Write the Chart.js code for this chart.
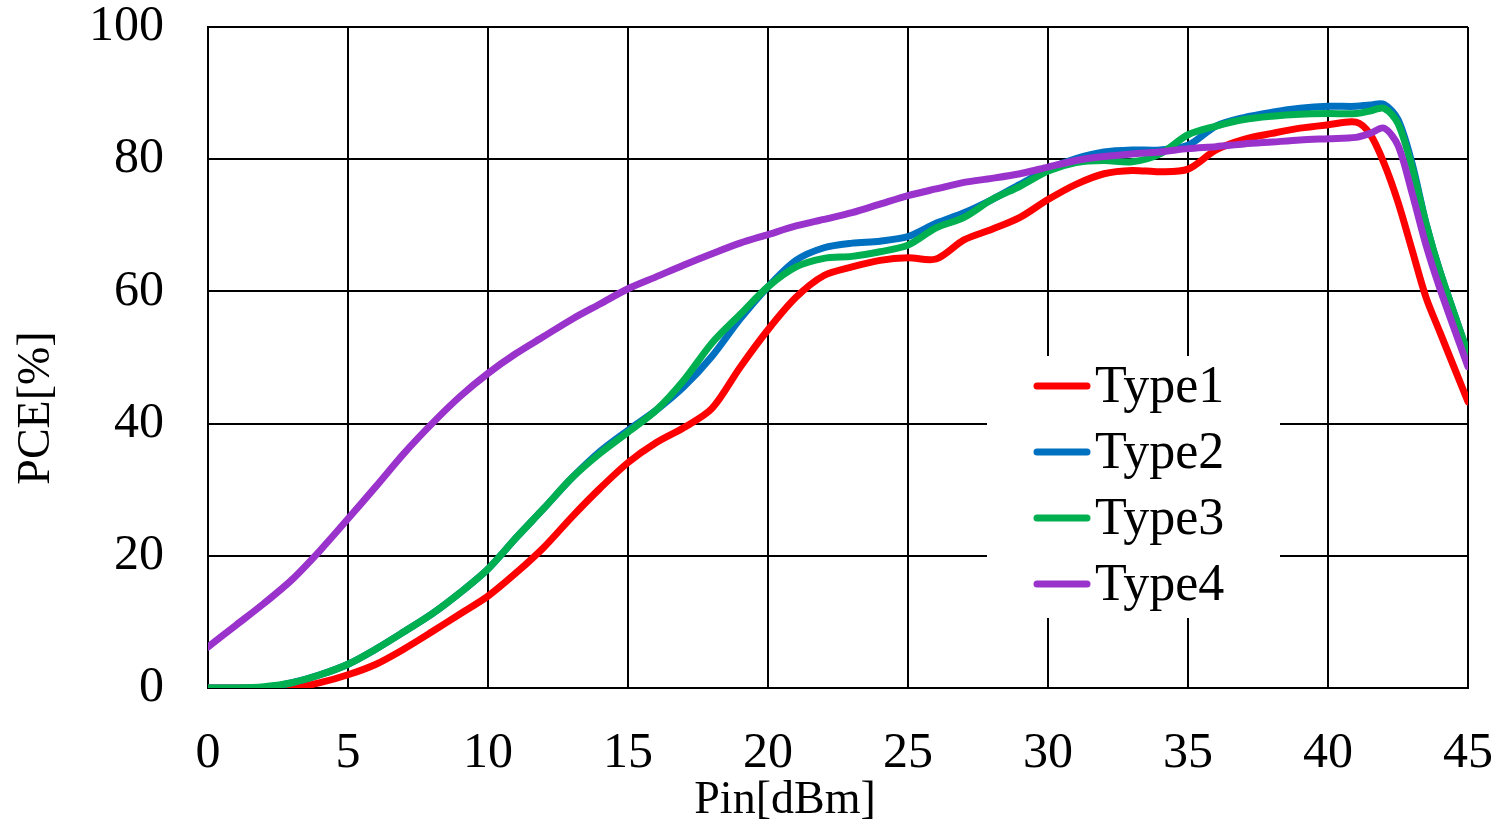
<!DOCTYPE html>
<html>
<head>
<meta charset="utf-8">
<script src="https://cdn.jsdelivr.net/npm/chart.js@4.4.0/dist/chart.umd.min.js"></script>
<style>
  html, body { margin: 0; padding: 0; background: #fff; }
  #wrap { width: 1500px; height: 824px; }
</style>
</head>
<body>
<div id="wrap"><canvas id="myChart" width="1500" height="824"></canvas></div>
<script>
// Pin [dBm]
var pin = [0, 1, 2, 3, 4, 5, 6, 7, 8, 9, 10, 11, 12, 13, 14, 15, 16, 17, 18, 19, 20,
    21, 22, 23, 24, 25, 26, 27, 28, 29, 30, 31, 32, 33, 34, 35, 36, 37, 38, 39, 40,
    41, 41.5, 42, 42.5, 43, 43.5, 44, 45];

// PCE [%]
var type1 = [0, 0, 0, 0, 0.8, 2, 3.6, 5.9, 8.5, 11.2, 13.9, 17.4, 21.3, 25.9, 30.2, 34.1, 37.1, 39.4, 42.3, 48.5, 54.2,
    59.1, 62.4, 63.7, 64.7, 65.1, 64.9, 67.8, 69.4, 71.2, 73.9, 76.2, 77.8, 78.3, 78.1, 78.5, 81.4, 83, 83.9, 84.7, 85.2,
    85.6, 83.8, 79.4, 73.5, 66.3, 59.1, 53.8, 43.3];
var type2 = [0, 0, 0, 0.8, 2, 3.6, 5.9, 8.5, 11.2, 14.4, 18, 22.7, 27.2, 31.8, 35.8, 39, 42, 45.6, 50.2, 55.8, 60.7,
    64.7, 66.6, 67.3, 67.6, 68.3, 70.3, 71.9, 73.9, 76.2, 78.5, 80.1, 81.1, 81.4, 81.4, 82.1, 85, 86.3, 87.1, 87.7, 88,
    88, 88.2, 88.3, 86, 79.4, 70.3, 63, 50.6];
var type3 = [0, 0, 0.2, 0.8, 2, 3.6, 5.9, 8.5, 11.2, 14.4, 18, 22.7, 27.2, 31.8, 35.5, 38.7, 42, 46.6, 52.2, 56.5, 60.7,
    63.7, 65, 65.3, 66, 67, 69.6, 71.2, 73.9, 75.9, 78.2, 79.5, 79.8, 79.6, 80.8, 83.7, 85, 86, 86.5, 86.8, 86.9,
    86.9, 87.3, 87.7, 85.4, 78.8, 70.3, 63, 50.6];
var type4 = [6.2, 9.5, 12.8, 16.4, 20.8, 25.6, 30.5, 35.5, 40, 44.1, 47.6, 50.6, 53.2, 55.8, 58.1, 60.4, 62.2, 64, 65.7, 67.3, 68.6,
    69.9, 70.9, 71.9, 73.2, 74.5, 75.5, 76.5, 77.1, 77.8, 78.8, 79.8, 80.4, 80.8, 81.1, 81.6, 81.9, 82.3, 82.6, 82.9, 83.1,
    83.3, 83.9, 84.7, 82.1, 74.9, 67, 60.4, 48.6];

var seriesNames = ['Type1', 'Type2', 'Type3', 'Type4'];
var seriesColors = ['#FF0000', '#0070C0', '#00B050', '#9933CC'];
var seriesValues = [type1, type2, type3, type4];
var xTitle = 'Pin[dBm]';
var yTitle = 'PCE[%]';

var serif = "'Liberation Serif', 'Times New Roman', serif";

function toPoints(ys) {
    return pin.map(function (x, i) { return { x: x, y: ys[i] }; });
}

var datasets = seriesNames.map(function (name, i) {
    return {
        label: name,
        data: toPoints(seriesValues[i]),
        borderColor: seriesColors[i],
        backgroundColor: seriesColors[i],
        borderWidth: 7,
        pointRadius: 0,
        fill: false,
        tension: 0.3,
        borderCapStyle: 'round',
        borderJoinStyle: 'round',
        order: seriesNames.length - i
    };
});

// legend box drawn inside the plot, over the grid
var insideLegend = {
    id: 'insideLegend',
    beforeDatasetsDraw: function (chart) {
        var c = chart.ctx;
        var a = chart.chartArea;
        var bx = a.left + 779, by = a.top + 329;
        c.save();
        c.fillStyle = '#fff';
        c.fillRect(bx, by, 293, 262);
        c.font = '52px ' + serif;
        c.textBaseline = 'middle';
        c.textAlign = 'left';
        seriesNames.forEach(function (name, i) {
            var y = by + 30 + i * 66;
            c.strokeStyle = seriesColors[i];
            c.lineWidth = 7;
            c.lineCap = 'round';
            c.beginPath();
            c.moveTo(bx + 50, y);
            c.lineTo(bx + 100, y);
            c.stroke();
            c.fillStyle = '#000';
            c.fillText(name, bx + 108, y + 2);
        });
        c.restore();
    }
};

// axis titles are a bit off-centre in the original, so draw them by hand
var axisTitles = {
    id: 'axisTitles',
    afterDraw: function (chart) {
        var c = chart.ctx;
        var a = chart.chartArea;
        c.save();
        c.font = '46px ' + serif;
        c.fillStyle = '#000';
        c.textAlign = 'center';
        c.textBaseline = 'middle';
        c.fillText(xTitle, a.left + 577, 801);
        c.translate(37, a.top + 381);
        c.rotate(-Math.PI / 2);
        c.fillText(yTitle, 0, 0);
        c.restore();
    }
};

function noPad(scale) {
    scale.paddingTop = 0;
    scale.paddingBottom = 0;
    scale.paddingLeft = 0;
    scale.paddingRight = 0;
}

var ctx = document.getElementById('myChart');
var myChart = new Chart(ctx, {
    type: 'line',
    data: { datasets: datasets },
    plugins: [insideLegend, axisTitles],
    options: {
        responsive: false,
        animation: false,
        layout: { padding: { top: 27, right: 32, left: 0, bottom: 0 } },
        plugins: {
            legend: { display: false },
            tooltip: { enabled: false }
        },
        scales: {
            x: {
                type: 'linear',
                min: 0,
                max: 45,
                ticks: {
                    stepSize: 5,
                    color: '#000',
                    padding: 41,
                    maxRotation: 0,
                    font: { family: serif, size: 50, lineHeight: 1 }
                },
                grid: { color: '#000', lineWidth: 2, drawTicks: false },
                border: { color: '#000', width: 2 },
                title: { display: false },
                afterFit: function (scale) { scale.height = 136; noPad(scale); }
            },
            y: {
                min: 0,
                max: 100,
                ticks: {
                    stepSize: 20,
                    color: '#000',
                    padding: 44,
                    font: { family: serif, size: 50, lineHeight: 1 }
                },
                grid: { color: '#000', lineWidth: 2, drawTicks: false },
                border: { color: '#000', width: 2 },
                title: { display: false },
                afterFit: function (scale) { scale.width = 208; noPad(scale); }
            }
        }
    }
});
</script>
</body>
</html>
